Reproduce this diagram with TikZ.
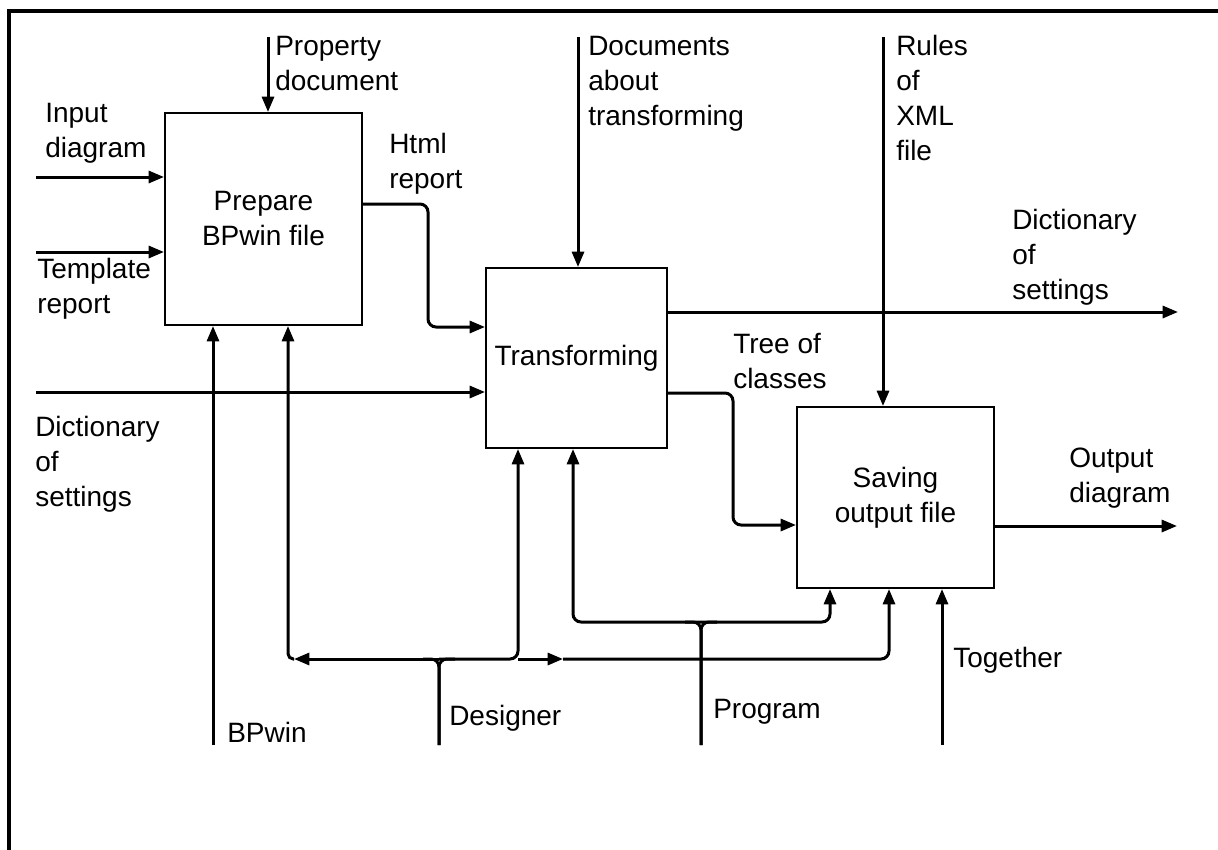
\documentclass[tikz,border=0pt]{standalone}
\usepackage{fontspec}
\setmainfont{Liberation Sans}
\usetikzlibrary{arrows.meta,positioning}

\tikzset{
  func/.style={draw, line width=1.5pt, inner sep=0, align=center,
               font=\fontsize{21}{26.25}\selectfont},
  flow/.style={line width=2.25pt, rounded corners=6pt,
               -{Triangle[length=11.5pt,width=9pt]}},
  wire/.style={line width=2.25pt, rounded corners=6pt},
  % anchored on the baseline of the last line
  lbl/.style={anchor=base west, inner sep=0, align=left,
              font=\fontsize{21}{26.25}\selectfont},
}

\begin{document}
\begin{tikzpicture}[x=0.75pt, y=-0.75pt]
\useasboundingbox (0,0) rectangle (1218,850);
% frame
\draw[line width=2.5pt] (9,870) -- (9,11) -- (1240,11);

% functions
\node[func, minimum width=147.75pt, minimum height=159pt]    (prep)  at (263.5,219)   {Prepare\\BPwin file};
\node[func, minimum width=135.75pt, minimum height=135pt]    (trans) at (576.5,358)   {Transforming};
\node[func, minimum width=147.75pt, minimum height=135.75pt] (save)  at (895.5,497.5) {Saving\\output file};

% inputs
\coordinate (inDiag) at (36,177);
\coordinate (inTmpl) at (36,252);
\coordinate (inDict) at (36,392);
\draw[flow] (inDiag) -- (inDiag -| prep.west);
\draw[flow] (inTmpl) -- (inTmpl -| prep.west);
\draw[flow] (inDict) -- (inDict -| trans.west);

% controls
\coordinate (ctlProp) at (268,37);
\coordinate (ctlDoc)  at (578,37);
\coordinate (ctlRule) at (883,37);
\draw[flow] (ctlProp) -- (ctlProp |- prep.north);
\draw[flow] (ctlDoc)  -- (ctlDoc |- trans.north);
\draw[flow] (ctlRule) -- (ctlRule |- save.north);

% outputs
\coordinate (html)    at (428,204);
\coordinate (htmlIn)  at (0,327);
\coordinate (tree)    at (733,393);
\coordinate (treeIn)  at (0,525);
\coordinate (outDict) at (1178,312);
\coordinate (outDiag) at (1177,526);
\draw[flow] (html -| prep.east) -- (html) |- (htmlIn -| trans.west);
\draw[flow] (tree -| trans.east) -- (tree) |- (treeIn -| save.west);
\draw[flow] (outDict -| trans.east) -- (outDict);
\draw[flow] (outDiag -| save.east) -- (outDiag);

% mechanisms
\coordinate (mBP)  at (213,745);
\coordinate (mDes) at (439,745);
\coordinate (mPrg) at (701,745);
\coordinate (mTog) at (942,745);
\draw[flow] (mBP) -- (mBP |- prep.south);
\draw[flow] (mTog) -- (mTog |- save.south);

% designer bus
\coordinate (jDes)  at (439,659);
\coordinate (dLeft) at (294,659);
\coordinate (dA)    at (288,659);
\coordinate (dT)    at (518,659);
\coordinate (dMid)  at (563,659);
\coordinate (dS)    at (889,659);
\draw[wire] (mDes) |- ([xshift=-12pt]jDes);
\draw[wire] (mDes) |- ([xshift=12pt]jDes);
\draw[flow] (jDes) -- (dLeft);
\draw[flow, rounded corners=4pt] (dLeft) -| (dA |- prep.south);
\draw[flow] (jDes) -| (dT |- trans.south);
\draw[flow] (dT) -- (dMid);
\draw[flow] (dMid) -| (dS |- save.south);

% program bus
\coordinate (jPrg) at (701,622);
\coordinate (pT)   at (573,622);
\coordinate (pS)   at (830,622);
\draw[wire] (mPrg) |- ([xshift=-12pt]jPrg);
\draw[wire] (mPrg) |- ([xshift=12pt]jPrg);
\draw[flow] (jPrg) -| (pT |- trans.south);
\draw[flow] (jPrg) -| (pS |- save.south);

% labels
\node[lbl] (lInDiag)  at (45,157)   {Input\\diagram};
\node[lbl] (lTmpl)    at (37,313)   {Template\\report};
\node[lbl] (lDictIn)  at (35,506)   {Dictionary\\of\\settings};
\node[lbl] (lProp)    at (275,90)   {Property\\document};
\node[lbl] (lDoc)     at (588,125)  {Documents\\about\\transforming};
\node[lbl] (lRule)    at (896,160)  {Rules\\of\\XML\\file};
\node[lbl] (lHtml)    at (389,188)  {Html\\report};
\node[lbl] (lDictOut) at (1012,299) {Dictionary\\of\\settings};
\node[lbl] (lTree)    at (733,388)  {Tree of\\classes};
\node[lbl] (lOut)     at (1069,502) {Output\\diagram};
\node[lbl] (lBP)      at (227,742)  {BPwin};
\node[lbl] (lDes)     at (449,725)  {Designer};
\node[lbl] (lPrg)     at (713,718)  {Program};
\node[lbl] (lTog)     at (953,667)  {Together};
\end{tikzpicture}
\end{document}
